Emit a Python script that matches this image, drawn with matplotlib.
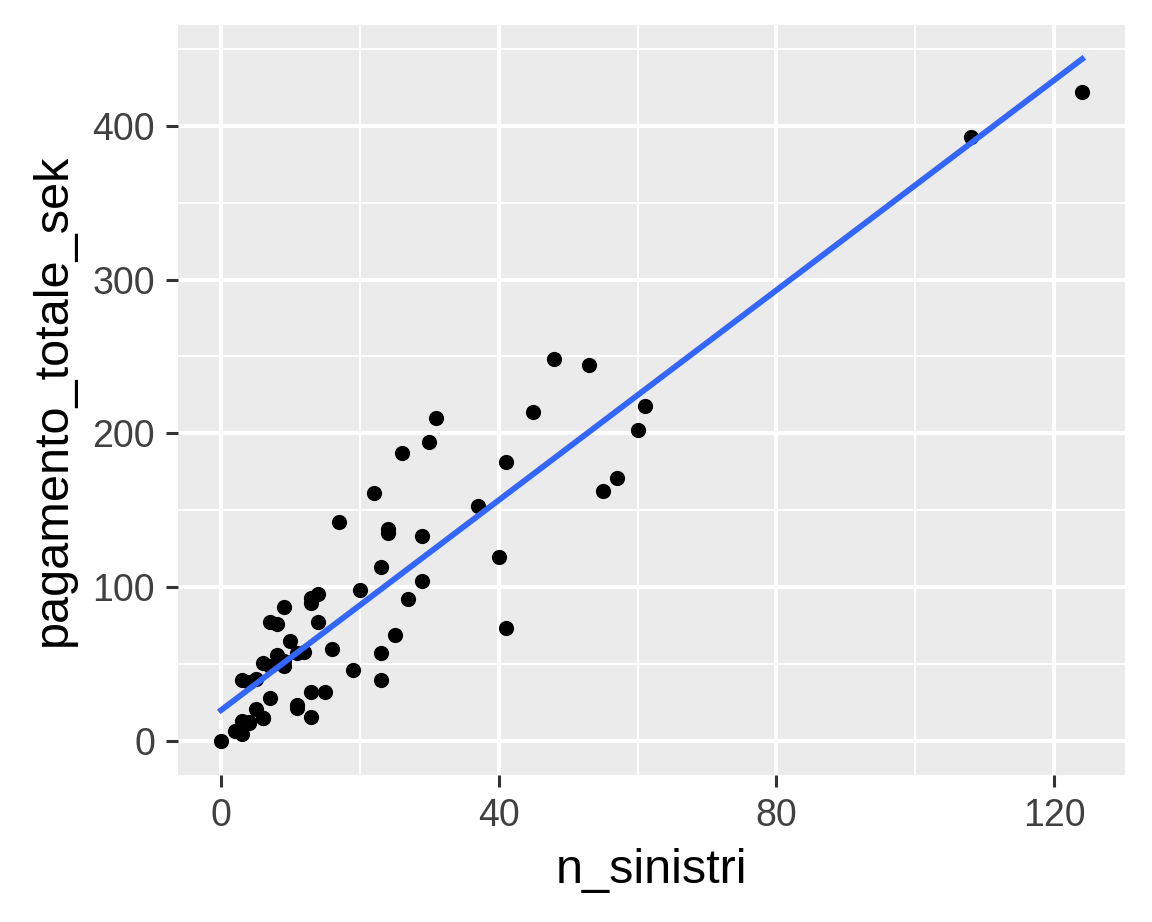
import numpy as np
import matplotlib.pyplot as plt
from matplotlib.ticker import MultipleLocator

# Swedish auto insurance data
n_sinistri = [108, 19, 13, 124, 40, 57, 23, 14, 45, 10, 5, 48, 11, 23, 7, 2, 24, 6, 3, 23,
              6, 9, 9, 3, 29, 7, 4, 20, 7, 4, 0, 25, 6, 5, 22, 11, 61, 12, 4, 16, 13, 60,
              41, 37, 55, 41, 11, 27, 8, 3, 17, 13, 13, 15, 8, 29, 30, 24, 9, 31, 14, 53, 26]
pagamento_totale_sek = [392.5, 46.2, 15.7, 422.2, 119.4, 170.9, 56.9, 77.5, 214, 65.3, 20.9,
                        248.1, 23.5, 39.6, 48.8, 6.6, 134.9, 50.9, 4.4, 113, 14.8, 48.7, 52.1,
                        13.2, 103.9, 77.5, 11.8, 98.1, 27.9, 38.1, 0, 69.2, 14.6, 40.3, 161.5,
                        57.2, 217.6, 58.1, 12.6, 59.6, 89.9, 202.4, 181.3, 152.8, 162.8, 73.4,
                        21.3, 92.6, 76.1, 39.9, 142.1, 93, 31.9, 32.1, 55.6, 133.3, 194.5,
                        137.9, 87.4, 209.8, 95.5, 244.6, 187.5]

plt.rcParams['font.family'] = ['Liberation Sans', 'DejaVu Sans']

x = np.array(n_sinistri, dtype=float)
y = np.array(pagamento_totale_sek, dtype=float)

# linear fit (geom_smooth method = "lm", se = FALSE)
slope, intercept = np.polyfit(x, y, 1)
xs = np.linspace(x.min(), x.max(), 100)
ys = intercept + slope * xs

fig = plt.figure(figsize=(11.52, 9.22), dpi=100)
ax = fig.add_axes([0.1545, 0.1594, 0.8221, 0.8135])
ax.set_facecolor('#EBEBEB')

ax.scatter(x, y, s=120, color='black', zorder=3, linewidths=0)
ax.plot(xs, ys, color='#3366FF', lw=4.2, zorder=4)

xr = x.max() - x.min()
ax.set_xlim(x.min() - 0.05 * xr, x.max() + 0.05 * xr)
yr = max(y.max(), ys.max()) - min(y.min(), ys.min())
ax.set_ylim(min(y.min(), ys.min()) - 0.05 * yr, max(y.max(), ys.max()) + 0.05 * yr)

ax.xaxis.set_major_locator(MultipleLocator(40))
ax.xaxis.set_minor_locator(MultipleLocator(20))
ax.yaxis.set_major_locator(MultipleLocator(100))
ax.yaxis.set_minor_locator(MultipleLocator(50))

ax.grid(which='major', color='white', lw=2.9)
ax.grid(which='minor', color='white', lw=1.45)
ax.set_axisbelow(True)

for s in ax.spines.values():
    s.set_visible(False)

ax.tick_params(which='major', length=8.5, width=2.2, color='#333333',
               labelsize=27, labelcolor='#404040', pad=8)
ax.tick_params(which='minor', length=0)

ax.set_xlabel('n_sinistri', fontsize=35, color='black', labelpad=10)
ax.set_ylabel('pagamento_totale_sek', fontsize=35, color='black', labelpad=12)

fig.savefig('out.png', dpi=100)
